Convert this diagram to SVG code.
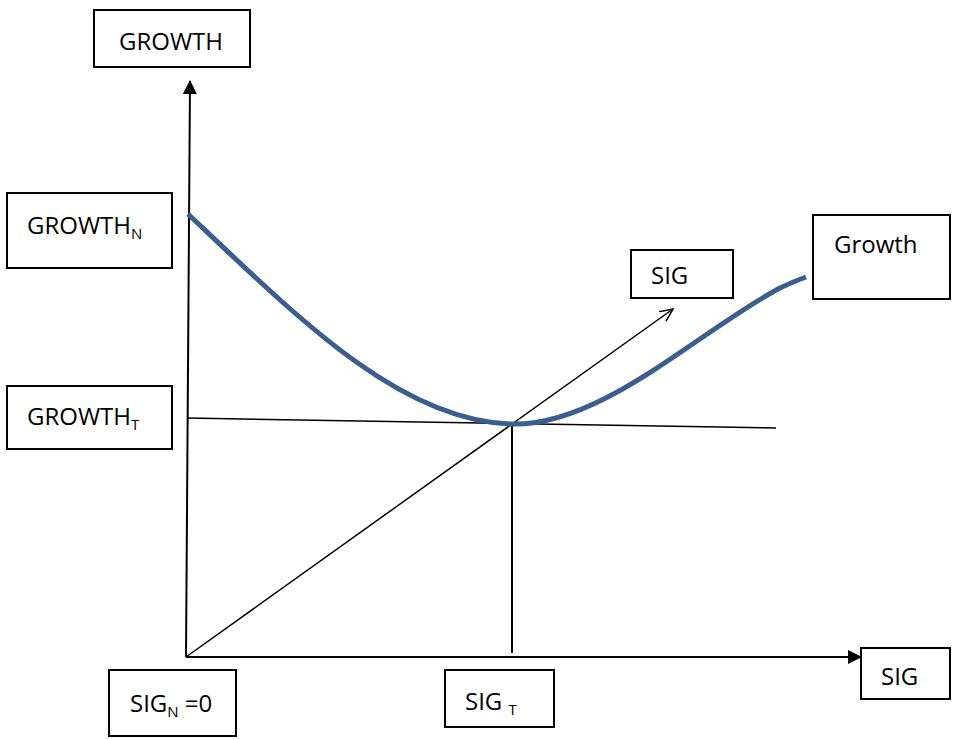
<svg xmlns="http://www.w3.org/2000/svg" width="955" height="740" viewBox="0 0 955 740">
<style>
.box{fill:#fff;stroke:#000;stroke-width:2}
.t{font-family:"Open Sans","Liberation Sans",sans-serif;font-size:24px;fill:#000}
.s{font-size:15px}
.ln{stroke:#000;stroke-width:1.5;fill:none}
</style>
<defs>
<marker id="fa" markerWidth="14" markerHeight="14" refX="13" refY="7" orient="auto" markerUnits="userSpaceOnUse" viewBox="0 0 14 14">
<path d="M0,0 L14,7 L0,14 z" fill="#000"/>
</marker>
<marker id="oa" markerWidth="14" markerHeight="14" refX="13" refY="7" orient="auto" markerUnits="userSpaceOnUse" viewBox="0 0 14 14">
<path d="M0,1 L13,7 L0,13" fill="none" stroke="#000" stroke-width="1.5"/>
</marker>
</defs>
<g id="connectors">
<line class="ln" x1="186" y1="657" x2="190" y2="81" style="stroke-width:2" marker-end="url(#fa)"/>
<line class="ln" x1="186" y1="657" x2="861" y2="657" style="stroke-width:2" marker-end="url(#fa)"/>
<line class="ln" x1="186" y1="657" x2="673" y2="309" marker-end="url(#oa)"/>
<line class="ln" x1="187" y1="418" x2="776" y2="428"/>
<line class="ln" x1="512" y1="423" x2="512" y2="653" style="stroke-width:2"/>
<path d="M188,214 C300,320 400,420 510,424 C600,428 700,330 780,288 Q795,281 806,277" fill="none" stroke="#3B5E8F" stroke-width="5"/>
</g>
<g id="n-growth"><rect class="box" x="94" y="10" width="156" height="57"/><text class="t" x="171" y="50" text-anchor="middle">GROWTH</text></g>
<g id="n-growthN"><rect class="box" x="7" y="193" width="165" height="75"/><text class="t" x="27" y="234">GROWTH<tspan class="s" dy="5">N</tspan></text></g>
<g id="n-growthT"><rect class="box" x="7" y="386" width="165" height="63"/><text class="t" x="27" y="425">GROWTH<tspan class="s" dy="5">T</tspan></text></g>
<g id="n-sigN"><rect class="box" x="109" y="670" width="127" height="66"/><text class="t" x="130" y="712">SIG<tspan class="s" dy="5">N</tspan><tspan dy="-5"> =0</tspan></text></g>
<g id="n-sigT"><rect class="box" x="445" y="670" width="109" height="57"/><text class="t" x="465" y="710">SIG <tspan class="s" dy="5">T</tspan></text></g>
<g id="n-sigX"><rect class="box" x="861" y="648" width="89" height="51"/><text class="t" x="881" y="685">SIG</text></g>
<g id="n-sigD"><rect class="box" x="631" y="250" width="102" height="48"/><text class="t" x="651" y="284">SIG</text></g>
<g id="n-growthCurve"><rect class="box" x="813" y="215" width="137" height="84"/><text class="t" x="834" y="253">Growth</text></g>
</svg>
